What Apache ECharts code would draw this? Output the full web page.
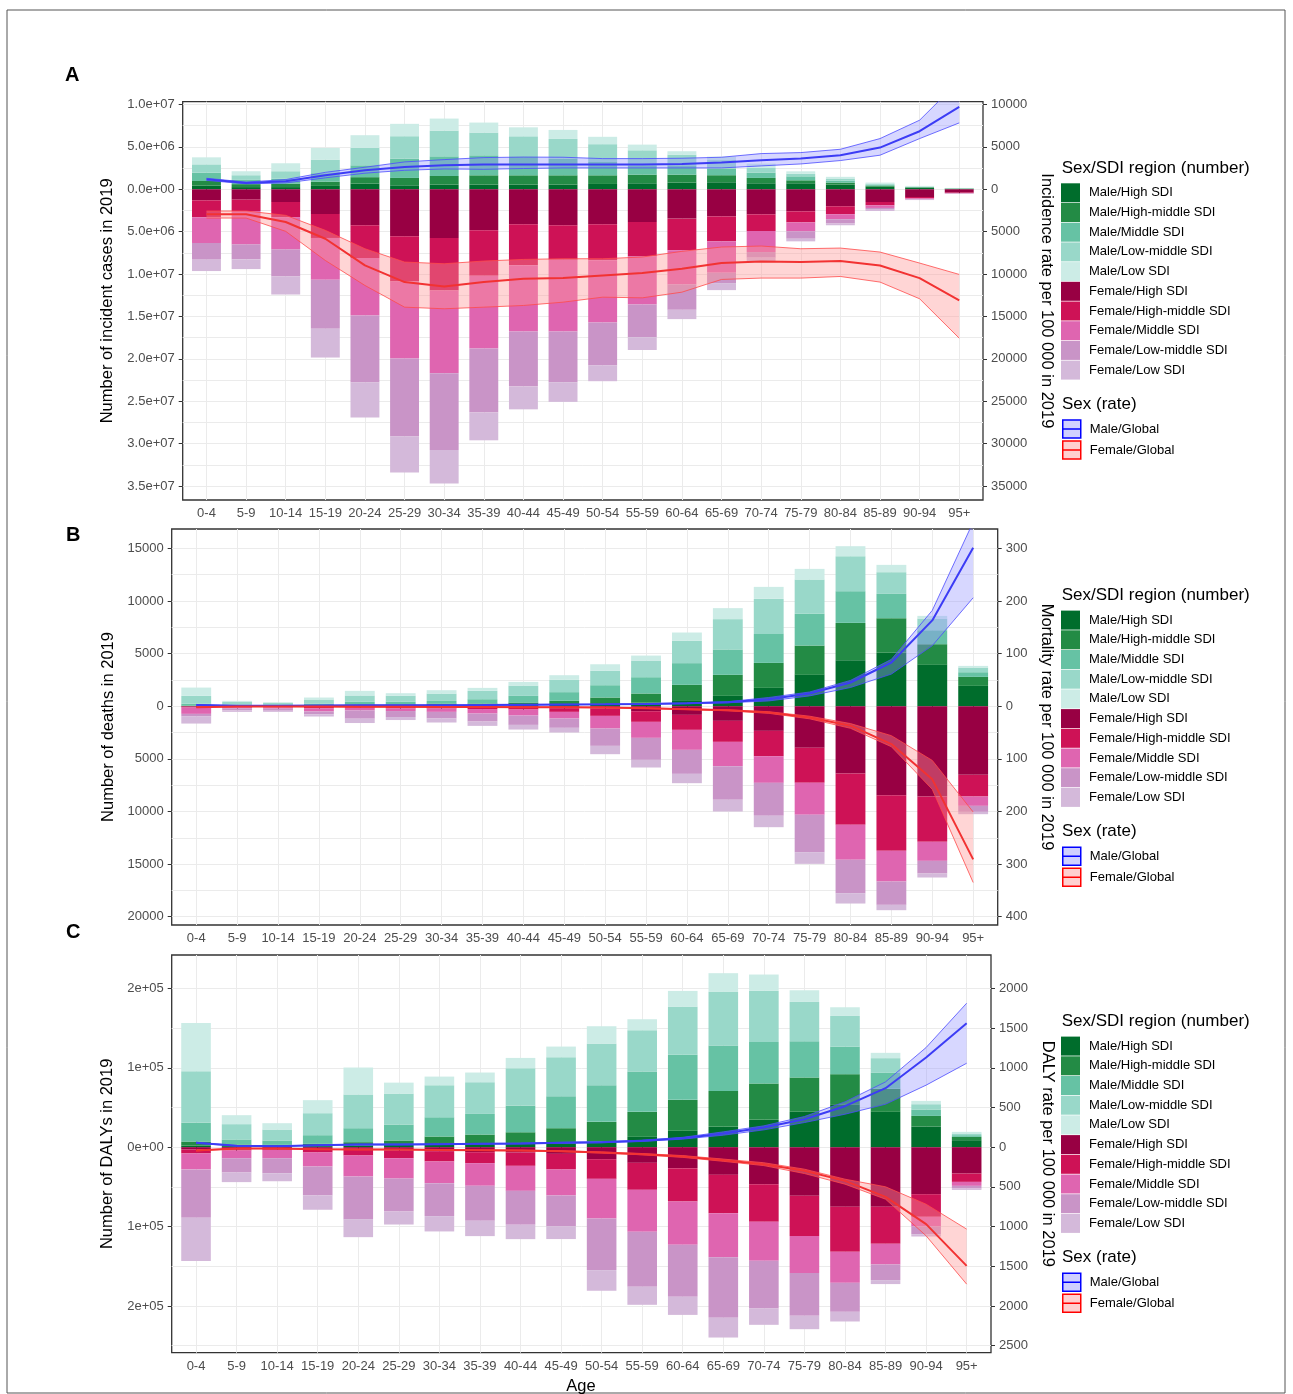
<!DOCTYPE html>
<html><head><meta charset="utf-8">
<script src="https://cdn.jsdelivr.net/npm/echarts@6/dist/echarts.min.js"></script>
<style>html,body{margin:0;padding:0;background:#fff}#c{width:1293px;height:1394px}</style>
</head><body><div id="c"></div>
<script>
// ---------- categories ----------
const ageGroups = ['0-4','5-9','10-14','15-19','20-24','25-29','30-34','35-39','40-44','45-49','50-54','55-59','60-64','65-69','70-74','75-79','80-84','85-89','90-94','95+'];
const maleNames = ['Male/High SDI','Male/High-middle SDI','Male/Middle SDI','Male/Low-middle SDI','Male/Low SDI'];
const femaleNames = ['Female/High SDI','Female/High-middle SDI','Female/Middle SDI','Female/Low-middle SDI','Female/Low SDI'];
const maleColors = ['#006D2C','#238B45','#66C2A4','#99D8C9','#CCECE6'];
const femaleColors = ['#980043','#CE1256','#DF65B0','#C994C7','#D4B9DA'];

// ---------- A: incidence (numbers in millions; females shown downward) ----------
const incMaleHigh   = [0.43,0.26,0.26,0.40,0.68,0.47,0.55,0.55,0.55,0.55,0.63,0.71,0.79,0.83,0.71,0.71,0.55,0.31,0.20,0.06];
const incMaleHM     = [0.55,0.35,0.40,0.50,0.75,0.87,1.02,1.10,1.10,1.10,1.02,1.02,0.94,0.83,0.63,0.35,0.24,0.12,0.04,0.03];
const incMaleMid    = [0.98,0.50,0.60,1.00,1.40,2.28,2.32,2.36,2.24,1.97,1.57,1.10,1.10,0.79,0.63,0.47,0.24,0.12,0.04,0.02];
const incMaleLM     = [0.98,0.55,0.87,1.60,2.05,2.64,3.03,2.68,2.36,2.32,2.10,1.77,1.26,1.00,0.55,0.31,0.24,0.12,0.04,0.02];
const incMaleLow    = [0.83,0.47,0.94,1.38,1.50,1.46,1.42,1.18,1.06,1.06,0.87,0.67,0.40,0.40,0.51,0.28,0.20,0.12,0.08,0.03];
const incFemHigh    = [1.30,1.22,1.50,2.91,4.25,5.55,5.75,4.84,4.13,4.25,4.13,3.86,3.46,3.19,2.95,2.60,2.00,1.50,0.91,0.39];
const incFemHM      = [2.00,1.34,1.81,2.83,3.86,5.31,6.18,5.35,4.84,4.06,4.25,4.06,3.74,2.95,1.97,1.30,0.94,0.39,0.16,0.06];
const incFemMid     = [3.03,3.94,3.78,4.92,6.77,9.09,9.76,8.58,7.80,8.46,7.32,5.67,4.02,3.70,2.48,1.06,0.59,0.31,0.08,0.04];
const incFemLM      = [1.97,1.77,3.19,5.79,7.91,9.21,9.06,7.56,6.50,5.98,5.08,3.86,2.99,1.22,0.67,0.87,0.51,0.20,0.08,0.03];
const incFemLow     = [1.34,1.14,2.13,3.39,4.13,4.25,3.94,3.27,2.68,2.32,1.85,1.50,1.10,0.83,0.39,0.31,0.20,0.16,0.04,0.03];
const incRateMale   = [1180,750,945,1650,2240,2640,2830,2910,2910,2910,2910,2910,2990,3150,3425,3620,4020,4920,6850,9720];
const incRateMaleLo = [1050,650,750,1350,1900,2240,2400,2360,2450,2520,2520,2520,2520,2520,2760,2990,3390,4020,5980,7830];
const incRateMaleHi = [1300,850,1150,2000,2600,3230,3500,3740,3800,3780,3620,3620,3660,3780,4210,4330,4720,5980,8150,12800];
const incRateFem    = [2950,2950,3860,5830,8980,10940,11460,10940,10550,10470,10160,9880,9370,8700,8500,8580,8460,8980,10470,13110];
const incRateFemLo  = [2560,2560,3070,4840,7010,8580,8780,8460,8270,8190,8190,7990,7320,6810,6690,7010,6930,7400,8700,10040];
const incRateFemHi  = [3390,3390,4960,8390,11340,13900,14090,13900,13700,13310,12720,12800,12130,10630,10470,10470,10280,10940,12910,17560];
const incLeftTicks  = [1e7,5e6,0,-5e6,-1e7,-1.5e7,-2e7,-2.5e7,-3e7,-3.5e7];
const incRightTicks = [10000,5000,0,-5000,-10000,-15000,-20000,-25000,-30000,-35000];
const incGridLines  = [1e7,7.5e6,5e6,2.5e6,0,-2.5e6,-5e6,-7.5e6,-1e7,-1.25e7,-1.5e7,-1.75e7,-2e7,-2.25e7,-2.5e7,-2.75e7,-3e7,-3.25e7,-3.5e7];

// ---------- B: deaths ----------
const dthMaleHigh   = [20,17,15,23,47,55,80,95,130,165,285,350,570,980,1740,2977,4370,5067,3927,1930];
const dthMaleHM     = [40,40,25,60,120,110,170,160,220,350,540,855,1460,2000,2375,2785,3545,3293,1963,855];
const dthMaleMid    = [190,100,80,170,250,250,250,410,630,820,1170,1550,2060,2410,2755,3010,3010,2312,1330,443];
const dthMaleLM     = [730,250,200,380,600,570,700,790,980,1170,1360,1580,2120,2880,3325,3260,3325,2058,1108,443];
const dthMaleLow    = [790,100,60,190,440,250,320,285,350,440,630,475,790,1045,1140,1013,950,697,253,158];
const dthFemHigh    = [50,30,40,70,60,80,90,120,150,190,220,475,823,1393,2343,3958,6396,8455,8581,6523];
const dthFemHM      = [80,40,60,130,90,130,130,150,170,350,700,1013,1425,1995,2407,3325,4877,5288,4307,2058];
const dthFemMid     = [600,130,130,300,250,250,320,430,570,630,1200,1520,1900,2312,2533,3040,3325,2913,1805,887];
const dthFemLM      = [250,200,200,280,790,570,630,760,887,887,1650,2090,2280,3198,3135,3547,3167,2217,1203,570];
const dthFemLow     = [670,140,110,200,410,285,380,410,443,443,790,728,887,1108,1077,1108,982,507,380,222];
const dthRateMale   = [2.5,0.8,0.8,1.2,1.6,1.7,2.0,2.2,2.6,3.0,3.5,4.2,5.5,7.5,13.3,24,45,83,163,301];
const dthRateMaleLo = [2.2,0.7,0.7,1.0,1.4,1.5,1.8,2.0,2.3,2.7,3.1,3.7,4.8,6.5,10,19.6,35.5,61,115,206];
const dthRateMaleHi = [2.8,1.0,1.0,1.4,1.8,1.9,2.2,2.5,2.9,3.4,3.9,4.7,6.2,8.6,16.5,27,49,89,182,350];
const dthRateFem    = [2.0,0.6,0.6,0.8,1.0,1.1,1.3,1.5,1.8,2.1,2.5,3.8,5.7,7.6,12,21.5,37,72,139,291];
const dthRateFemLo  = [1.7,0.5,0.5,0.7,0.85,0.95,1.1,1.3,1.5,1.8,2.2,3.3,5.0,6.8,10.5,19,33,56,103,201];
const dthRateFemHi  = [2.3,0.7,0.7,1.0,1.2,1.3,1.5,1.7,2.1,2.4,2.9,4.3,6.4,8.6,13.5,24,42,77,158,335];
const dthLeftTicks  = [15000,10000,5000,0,-5000,-10000,-15000,-20000];
const dthRightTicks = [300,200,100,0,-100,-200,-300,-400];
const dthGridLines  = [15000,12500,10000,7500,5000,2500,0,-2500,-5000,-7500,-10000,-12500,-15000,-17500,-20000];

// ---------- C: DALYs ----------
const dalyMaleHigh   = [2100,1300,900,1300,2100,3400,6300,5000,5000,5000,7100,13000,20600,25600,34400,44500,54100,44500,26000,8800];
const dalyMaleHM     = [5000,2100,2000,2900,4200,5000,7100,10900,13800,18900,24800,31500,39000,45300,45700,43200,37800,29000,13400,4200];
const dalyMaleMid    = [23900,6300,5500,10900,17600,20100,24300,26000,33600,40300,46200,50800,56700,57100,52500,45700,34800,20100,8000,2100];
const dalyMaleLM     = [64600,19300,13800,27700,42400,39000,40300,39900,47000,49100,52000,52000,60400,67600,64200,49500,38600,18500,6700,2100];
const dalyMaleLow    = [60800,11300,8000,16400,34000,13800,10900,12200,13000,13400,22200,13800,20100,23500,20600,14700,10900,6700,4200,2100];
const dalyFemHigh    = [2900,2500,2100,2900,2100,4200,5000,6300,6700,8400,15100,19700,26400,34800,46600,61300,75100,75100,59200,33200];
const dalyFemHM      = [5000,1700,1300,3800,8400,9700,13000,13800,16800,19700,24800,34000,42000,48300,47400,50400,56700,46600,28500,10500];
const dalyFemMid     = [20100,9700,10500,17600,26400,25600,27300,28500,31500,32700,49900,52900,54600,55400,49100,46600,39000,26000,12200,5000];
const dalyFemLM      = [60800,18000,18900,36500,53700,41500,41500,44100,42800,39000,65000,69200,65500,76400,60000,54100,36500,19700,9700,3400];
const dalyFemLow     = [54600,12100,10100,18000,22700,16400,19300,19300,18000,15900,26000,22700,22700,24800,20600,16800,12200,5000,2900,1700];
const dalyRateMale   = [55,17,13,25,34,34,38,42,46,55,63,80,113,172,248,352,516,743,1129,1561];
const dalyRateMaleLo = [48,15,11,22,30,30,34,37,41,49,56,72,102,151,218,310,415,541,781,1057];
const dalyRateMaleHi = [62,19,15,28,38,38,42,47,51,61,70,88,124,193,269,386,571,822,1255,1813];
const dalyRateFem    = [42,17,17,25,29,29,34,38,42,50,67,88,117,164,214,298,424,625,969,1494];
const dalyRateFemLo  = [37,15,15,22,26,26,30,34,37,45,60,80,106,150,196,277,403,499,718,1032];
const dalyRateFemHi  = [47,19,19,28,32,32,38,42,47,55,74,96,128,178,232,332,466,655,1116,1725];
const dalyLeftTicks  = [2e5,1e5,0,-1e5,-2e5];
const dalyRightTicks = [2000,1500,1000,500,0,-500,-1000,-1500,-2000,-2500];
const dalyGridLines  = [2e5,1.5e5,1e5,5e4,0,-5e4,-1e5,-1.5e5,-2e5,-2.5e5];

// ---------- helpers ----------
const FONT = '"Liberation Sans", Arial, Helvetica, sans-serif';
function sci(v, d) {
  return Math.abs(v).toExponential(d).replace(/e([+-])(\d)$/, (m, s, g) => 'e' + s + '0' + g);
}
const xPos = ageGroups.map((_, i) => i + 1);
// data rows are [value, position]; encode maps them so the value dimension is stacked
function rows(vals, sign) { return vals.map((v, i) => [sign * v, xPos[i]]); }
const ENC = {x: 1, y: 0};

const panels = [
  { letter:'A', letterXY:[65,75.5], grid:{left:182.7, top:101.7, width:800.3, height:398.3},
    yMin:-3.664e7, yMax:1.033e7, rateDiv:1000, unit:1e6,
    leftTicks:incLeftTicks, rightTicks:incRightTicks, gridLines:incGridLines, leftFmt:v=>sci(v,1),
    leftName:'Number of incident cases in 2019', rightName:'Incidence rate per 100 000 in 2019', leftGap:65, rightGap:50.7,
    males:[incMaleHigh,incMaleHM,incMaleMid,incMaleLM,incMaleLow], females:[incFemHigh,incFemHM,incFemMid,incFemLM,incFemLow],
    mR:[incRateMale,incRateMaleLo,incRateMaleHi], fR:[incRateFem,incRateFemLo,incRateFemHi] },
  { letter:'B', letterXY:[66,535.5], grid:{left:171.7, top:529, width:826, height:396},
    yMin:-20787, yMax:16834, rateDiv:50, unit:1,
    leftTicks:dthLeftTicks, rightTicks:dthRightTicks, gridLines:dthGridLines, leftFmt:v=>String(Math.abs(Math.round(v))),
    leftName:'Number of deaths in 2019', rightName:'Mortality rate per 100 000 in 2019', leftGap:54, rightGap:36,
    males:[dthMaleHigh,dthMaleHM,dthMaleMid,dthMaleLM,dthMaleLow], females:[dthFemHigh,dthFemHM,dthFemMid,dthFemLM,dthFemLow],
    mR:[dthRateMale,dthRateMaleLo,dthRateMaleHi], fR:[dthRateFem,dthRateFemLo,dthRateFemHi] },
  { letter:'C', letterXY:[66,932], grid:{left:171.7, top:955, width:819.3, height:397.7},
    yMin:-2.588e5, yMax:2.42e5, rateDiv:100, unit:1,
    leftTicks:dalyLeftTicks, rightTicks:dalyRightTicks, gridLines:dalyGridLines, leftFmt:v=>sci(v,0),
    leftName:'Number of DALYs in 2019', rightName:'DALY rate per 100 000 in 2019', leftGap:54, rightGap:42.7,
    males:[dalyMaleHigh,dalyMaleHM,dalyMaleMid,dalyMaleLM,dalyMaleLow], females:[dalyFemHigh,dalyFemHM,dalyFemMid,dalyFemLM,dalyFemLow],
    mR:[dalyRateMale,dalyRateMaleLo,dalyRateMaleHi], fR:[dalyRateFem,dalyRateFemLo,dalyRateFemHi] }
];

const tickStyle = {color:'#333333', width:1};
const labelColor = '#4D4D4D';
const gridColor = '#EBEBEB';
const rateIcon = 'path://M0,0L20,0L20,20L0,20Z M0,10L20,10';

const option = {
  animation:false,
  textStyle:{fontFamily:FONT},
  grid:[], xAxis:[], yAxis:[], series:[], legend:[],
  graphic:[{type:'rect', silent:true, z:0, shape:{x:7,y:10,width:1278,height:1383}, style:{fill:'none', stroke:'#555', lineWidth:1}}]
};

function textEl(x, y, text, size, opts) {
  opts = opts || {};
  return {type:'text', x:x, y:y, silent:true, z:10,
    style:{text:text, fontSize:size, fontFamily:FONT, fontWeight:opts.bold?'bold':'normal', fill:'#000',
      align:opts.align||'left', verticalAlign:'middle', textAlign:opts.align||'left', textVerticalAlign:'middle'}};
}

panels.forEach((p, pi) => {
  const pt = p.grid.top;
  option.grid.push({left:p.grid.left, top:p.grid.top, width:p.grid.width, height:p.grid.height,
    show:true, borderColor:'#333333', borderWidth:1.3, backgroundColor:'rgba(0,0,0,0)'});
  option.xAxis.push({type:'value', gridIndex:pi, min:0.4, max:20.6,
    axisLine:{show:false},
    axisTick:{show:true, length:4, lineStyle:tickStyle, customValues:xPos},
    axisLabel:{customValues:xPos, formatter:v=>ageGroups[Math.round(v)-1], color:labelColor, fontSize:13, margin:7},
    splitLine:{show:true, lineStyle:{color:gridColor, width:1}}});
  option.yAxis.push({type:'value', gridIndex:pi, position:'left', min:p.yMin, max:p.yMax,
    axisLine:{show:false},
    axisTick:{show:true, length:4, lineStyle:tickStyle, customValues:p.leftTicks},
    axisLabel:{customValues:p.leftTicks, formatter:p.leftFmt, color:labelColor, fontSize:13, margin:8},
    splitLine:{show:false},
    name:p.leftName, nameLocation:'middle', nameGap:p.leftGap, nameRotate:90,
    nameTextStyle:{fontSize:16.5, color:'#000'}});
  option.yAxis.push({type:'value', gridIndex:pi, position:'right', min:p.yMin/p.rateDiv, max:p.yMax/p.rateDiv,
    axisLine:{show:false},
    axisTick:{show:true, length:4, lineStyle:tickStyle, customValues:p.rightTicks},
    axisLabel:{customValues:p.rightTicks, formatter:v=>String(Math.abs(Math.round(v))), color:labelColor, fontSize:13, margin:8},
    splitLine:{show:false},
    name:p.rightName, nameLocation:'middle', nameGap:p.rightGap, nameRotate:-90,
    nameTextStyle:{fontSize:16.5, color:'#000'}});
  option.yAxis.push({type:'value', gridIndex:pi, position:'left', min:p.yMin, max:p.yMax,
    axisLine:{show:false}, axisTick:{show:false, customValues:p.gridLines}, axisLabel:{show:false},
    splitLine:{show:true, lineStyle:{color:gridColor, width:1}}});

  const yL = pi*3, yR = pi*3+1;
  p.males.forEach((arr, k) => option.series.push({type:'bar', name:maleNames[k], xAxisIndex:pi, yAxisIndex:yL,
    stack:'num'+pi, barWidth:'73%', itemStyle:{color:maleColors[k]}, encode:ENC,
    data:rows(arr.map(v=>v*p.unit), 1)}));
  p.females.forEach((arr, k) => option.series.push({type:'bar', name:femaleNames[k], xAxisIndex:pi, yAxisIndex:yL,
    stack:'num'+pi, barWidth:'73%', itemStyle:{color:femaleColors[k]}, encode:ENC,
    data:rows(arr.map(v=>v*p.unit), -1)}));

  function ribbon(name, r, sign, edge, mid, fill) {
    const [mean, lo, hi] = r;
    const st = 'rate_' + name + pi;
    option.series.push({type:'line', name:name, xAxisIndex:pi, yAxisIndex:yR, stack:st, stackStrategy:'all',
      symbol:'none', silent:true, z:3, lineStyle:{color:edge, width:0.8}, encode:ENC,
      data:rows(lo, sign)});
    option.series.push({type:'line', name:name, xAxisIndex:pi, yAxisIndex:yR, stack:st, stackStrategy:'all',
      symbol:'none', silent:true, z:3, lineStyle:{color:edge, width:0.8}, areaStyle:{color:fill, opacity:1}, encode:ENC,
      data:rows(hi.map((v,i)=>v-lo[i]), sign)});
    option.series.push({type:'line', name:name, xAxisIndex:pi, yAxisIndex:yR,
      symbol:'none', silent:true, z:4, lineStyle:{color:mid, width:2}, encode:ENC,
      data:rows(mean, sign)});
  }
  ribbon('Male/Global', p.mR, 1, '#4B4BFF', '#3C3CF5', 'rgba(150,150,255,0.38)');
  ribbon('Female/Global', p.fR, -1, '#FF4A4A', '#F23232', 'rgba(255,150,150,0.4)');

  option.legend.push({orient:'vertical', left:1061, top:pt+81.6, padding:0, itemWidth:19, itemHeight:19, itemGap:0.7,
    icon:'rect', selectedMode:false, textStyle:{fontSize:13, color:'#000', padding:[0,0,0,4]},
    data:maleNames.concat(femaleNames)});
  option.legend.push({orient:'vertical', left:1062, top:pt+317.6, padding:0, itemWidth:18, itemHeight:18, itemGap:1.4,
    selectedMode:false, textStyle:{fontSize:13, color:'#000', padding:[0,0,0,4]},
    data:[
      {name:'Male/Global', icon:rateIcon, itemStyle:{color:'rgba(150,150,255,0.45)', borderColor:'#0000FF', borderWidth:1.5}},
      {name:'Female/Global', icon:rateIcon, itemStyle:{color:'rgba(255,150,150,0.45)', borderColor:'#FF0000', borderWidth:1.5}}
    ]});

  option.graphic.push(textEl(p.letterXY[0], p.letterXY[1], p.letter, 20, {bold:true}));
  option.graphic.push(textEl(1061.7, pt+66.6, 'Sex/SDI region (number)', 17));
  option.graphic.push(textEl(1062, pt+302.3, 'Sex (rate)', 17));
});
option.graphic.push(textEl(581, 1386.7, 'Age', 16.5, {align:'center'}));

const chart = echarts.init(document.getElementById('c'), null, {renderer:'canvas'});
chart.setOption(option);
</script>
</body></html>
